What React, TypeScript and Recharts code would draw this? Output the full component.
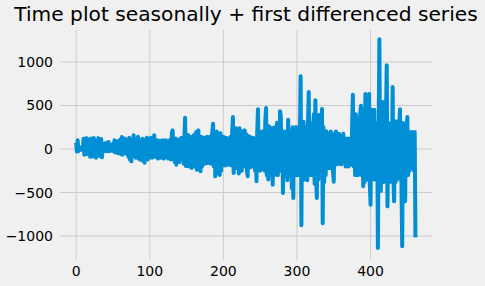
import React from "react";
import { LineChart, Line, XAxis, YAxis, CartesianGrid } from "recharts";

const title = "Time plot seasonally + first differenced series";

// values, one per time index (0..461)
const values: number[] = [
  70, -30, 100, -25, 20, -5, 15, -8, 23, -5,
  118, -65, 90, -40, 125, -60, 80, -57, 110, -90,
  120, -70, 60, -85, 125, -50, 95, -100, 70, -60,
  125, -80, 100, -45, 115, -95, 60, -30, 50, -20,
  70, -25, 40, -10, 80, -27, 45, -15, 30, -20,
  60, -25, 100, -40, 70, -30, 90, -50, 60, -45,
  110, -60, 138, -65, 90, -50, 120, -40, 70, -60,
  100, -90, 130, -120, 80, -142, 110, -60, 157, -80,
  118, -100, 90, -70, 140, -110, 60, -123, 100, -60,
  118, -138, 80, -157, 110, -90, 130, -120, 70, -100,
  120, -60, 130, -100, 90, -80, 157, -90, 100, -70,
  100, -110, 60, -90, 95, -100, 80, -60, 100, -110,
  70, -80, 100, -90, 50, -110, 90, -70, 110, -120,
  180, 214, -100, 60, -150, 120, -180, 80, -130, 110,
  -150, 100, -120, 130, -100, 70, -170, 120, 360, -195,
  150, -176, 160, -200, 100, -150, 140, -218, 120, -180,
  160, -200, 130, 195, -238, 90, 214, -160, 120, -256,
  140, -200, 100, -150, 130, -170, 80, -120, 140, -160,
  110, -150, 140, -170, 120, 200, 291, -200, 150, -314,
  -250, 200, -180, 150, -220, -299, 180, -250, 120, -190,
  140, -170, 100, -190, 130, -150, 120, -180, 90, -160,
  140, -190, 200, 368, -276, 120, -200, 150, 237, -220,
  180, -280, 237, -200, 150, -250, 200, -180, 120, 214,
  -200, 170, -250, -314, 150, -180, 140, -210, 100, -190,
  130, -200, 120, -250, 100, -371, 200, 456, -150, 200,
  -250, 150, -230, 200, -180, 120, -250, 330, 471, -300,
  200, -350, 260, -300, 150, -250, 240, -410, 180, -300,
  250, -280, 200, 302, -300, 150, -250, 433, 380, -200,
  150, -505, 200, -300, 150, -250, 200, -360, 337, -250,
  200, -300, 150, -450, 250, -563, 200, -300, 250, -280,
  250, -300, 200, -250, 150, 835, -877, 300, -230, 314,
  -350, 250, -300, 200, -360, 300, 655, -300, 250, -250,
  300, -300, 250, 400, -400, 559, -300, -563, 300, -350,
  390, -230, 300, -250, 459, -854, 250, -380, 200, -300,
  200, -220, 180, -200, 150, -220, 200, -180, 150, -250,
  -376, 176, -150, 200, -176, 150, -170, 176, -120, 150,
  -176, 120, -150, 176, -160, 120, -200, 100, -180, 120,
  -200, 90, -150, 120, -180, 300, 624, -200, 350, -300,
  400, -250, 300, -300, 350, -280, 420, 498, -300, 380,
  -429, 450, -380, 632, -300, 500, -350, 600, 632, -400,
  -640, 450, -350, 400, -300, 450, -350, 300, -300, 250,
  -1137, 200, 1260, -300, -482, 300, -350, 539, -380, 300,
  -300, 400, 961, -659, 300, -380, 250, -350, 300, -380,
  712, -300, -601, 320, -380, 280, -350, 320, -300, 250,
  456, -300, -400, -1118, 300, -500, 250, -600, 200, 250,
  368, -300, 195, -250, 180, -200, 195, -220, 150, -250,
  195, -1015,
];

const xTicks = [0, 100, 200, 300, 400];
const yTicks = [-1000, -500, 0, 500, 1000];
const xDomain: [number, number] = [-22, 483.5];
const yDomain: [number, number] = [-1275, 1367];

const data = values.map((v, i) => ({ x: i, y: v }));

const font = "DejaVu Sans, sans-serif";
const fmt = (v: number) => String(v).replace("-", "\u2212");

// grid lines only at the ticks (no border lines at the plot edges)
const vGrid = ({ xAxis, offset }: any) =>
  xTicks.map((t) =>
    xAxis && typeof xAxis.scale === "function"
      ? xAxis.scale(t)
      : offset.left + ((t - xDomain[0]) / (xDomain[1] - xDomain[0])) * offset.width
  );
const hGrid = ({ yAxis, offset }: any) =>
  yTicks.map((t) =>
    yAxis && typeof yAxis.scale === "function"
      ? yAxis.scale(t)
      : offset.top + ((yDomain[1] - t) / (yDomain[1] - yDomain[0])) * offset.height
  );

export default function App() {
  return (
    <div style={{ position: "absolute", left: 0, top: 0, width: 485, height: 286, background: "#f0f0f0" }}>
      <div
        style={{
          position: "absolute",
          left: 0,
          width: 492,
          top: 2,
          textAlign: "center",
          fontFamily: font,
          fontSize: 20.2,
          color: "#000",
          whiteSpace: "nowrap",
        }}
      >
        {title}
      </div>
      <LineChart width={485} height={286} data={data} margin={{ top: 30, right: 53, bottom: 0, left: 0 }}>
        <CartesianGrid
          stroke="#cbcbcb"
          strokeWidth={1}
          verticalCoordinatesGenerator={vGrid}
          horizontalCoordinatesGenerator={hGrid}
        />
        <XAxis
          type="number"
          dataKey="x"
          domain={xDomain}
          ticks={xTicks}
          allowDataOverflow
          axisLine={false}
          tickLine={false}
          tickSize={6}
          tickMargin={0}
          height={26}
          tick={{ fill: "#000", fontSize: 14, fontFamily: font }}
        />
        <YAxis
          type="number"
          domain={yDomain}
          ticks={yTicks}
          allowDataOverflow
          axisLine={false}
          tickLine={false}
          tickSize={6}
          tickMargin={1}
          width={60}
          tickFormatter={fmt}
          tick={{ fill: "#000", fontSize: 14, fontFamily: font }}
        />
        <Line
          type="linear"
          dataKey="y"
          stroke="#008fd5"
          strokeWidth={4}
          strokeLinejoin="round"
          dot={false}
          isAnimationActive={false}
        />
      </LineChart>
    </div>
  );
}
